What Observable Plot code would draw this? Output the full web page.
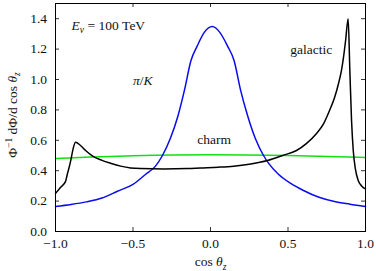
<!DOCTYPE html>
<html><head><meta charset="utf-8">
<script src="https://cdn.jsdelivr.net/npm/d3@7"></script>
<script src="https://cdn.jsdelivr.net/npm/@observablehq/plot@0.6"></script>
<style>body{margin:0;background:#fff} svg{display:block}</style>
</head><body><div id="chart"></div>
<script>
// ---- data ----
const xTicks = [-1.0, -0.5, 0.0, 0.5, 1.0];
const yTicks = [0.0, 0.2, 0.4, 0.6, 0.8, 1.0, 1.2, 1.4];

const cosPiK = [-1.0,-0.9,-0.8,-0.7,-0.6,-0.5,-0.42,-0.355,-0.31,-0.26,-0.21,-0.168,-0.126,-0.086,-0.04,0.012,0.06,0.11,0.152,0.194,0.24,0.29,0.342,0.374,0.44,0.52,0.6,0.7,0.8,0.9,1.0];
const fluxPiK = [0.165,0.178,0.195,0.22,0.265,0.31,0.375,0.43,0.50,0.61,0.76,0.93,1.125,1.22,1.31,1.348,1.31,1.22,1.125,0.93,0.76,0.61,0.50,0.45,0.375,0.315,0.27,0.225,0.197,0.18,0.165];

const cosGal = [-1.0,-0.968,-0.935,-0.923,-0.91,-0.899,-0.885,-0.871,-0.839,-0.806,-0.755,-0.7,-0.645,-0.58,-0.516,-0.45,-0.3,-0.15,-0.065,0.05,0.15,0.25,0.368,0.465,0.555,0.62,0.684,0.73,0.768,0.8,0.826,0.845,0.858,0.872,0.888,0.899,0.910,0.921,0.935,0.953,0.975,1.0];
const fluxGal = [0.25,0.29,0.33,0.38,0.43,0.48,0.55,0.587,0.566,0.533,0.493,0.468,0.449,0.43,0.418,0.414,0.412,0.414,0.418,0.423,0.43,0.443,0.467,0.50,0.533,0.58,0.645,0.71,0.796,0.88,0.974,1.06,1.145,1.26,1.40,1.06,0.73,0.533,0.41,0.336,0.30,0.28];

const cosCharm = [-1.0,-0.5,0.0,0.5,1.0];
const fluxCharm = [0.48,0.498,0.505,0.50,0.487];

const labelEnergy = "Eν = 100 TeV";
const labelPiK = "π/K";
const labelCharm = "charm";
const labelGal = "galactic";
const labelX = "cos θz";
const labelY = "Φ−1 dΦ/d cos θz";

// ---- build ----
const W = 376, H = 271, mL = 55, mR = 11, mT = 3, mB = 40;
const innerW = W - mL - mR, innerH = H - mT - mB, tickLen = 4;
const font = "Liberation Serif, Liberation Sans, serif";
const toRows = (xs, ys) => xs.map((c, i) => ({c, f: ys[i]}));
const fmt = d3.format(".1f");
const T = {fontFamily: font, fontSize: 13.5};

const plot = Plot.plot({
  width: W, height: H,
  marginLeft: mL, marginRight: mR, marginTop: mT, marginBottom: mB,
  style: {fontFamily: font, fontSize: "13.5px", background: "white", color: "#111", overflow: "visible"},
  x: {domain: [-1, 1]},
  y: {domain: [0, 1.5]},
  marks: [
    Plot.axisX(xTicks, {tickSize: 0, tickPadding: 7, tickFormat: fmt, label: null, ...T}),
    Plot.axisY(yTicks, {tickSize: 0, tickPadding: 8.5, tickFormat: fmt, label: null, ...T}),
    Plot.tickX(xTicks, {x: d => d, insetTop: innerH - tickLen, stroke: "#333"}),
    Plot.tickX(xTicks, {x: d => d, insetBottom: innerH - tickLen, stroke: "#333"}),
    Plot.tickY(yTicks, {y: d => d, insetRight: innerW - tickLen, stroke: "#333"}),
    Plot.tickY(yTicks, {y: d => d, insetLeft: innerW - tickLen, stroke: "#333"}),
    Plot.line(toRows(cosCharm, fluxCharm), {x: "c", y: "f", stroke: "#11e011", strokeWidth: 1.5, curve: "monotone-x"}),
    Plot.line(toRows(cosPiK, fluxPiK), {x: "c", y: "f", stroke: "#0a0aee", strokeWidth: 1.5, curve: "monotone-x"}),
    Plot.line(toRows(cosGal, fluxGal), {x: "c", y: "f", stroke: "black", strokeWidth: 1.5, curve: "monotone-x"}),
    Plot.frame({stroke: "black", strokeWidth: 1}),
    Plot.text([labelEnergy], {x: -0.896, y: 1.355, text: d => d, textAnchor: "start", ...T}),
    Plot.text([labelPiK], {x: -0.5, y: 0.99, text: d => d, textAnchor: "start", ...T}),
    Plot.text([labelCharm], {x: 0.023, y: 0.605, text: d => d, textAnchor: "middle", ...T}),
    Plot.text([labelGal], {x: 0.65, y: 1.197, text: d => d, textAnchor: "middle", ...T}),
    Plot.text([labelX], {frameAnchor: "bottom", dy: 34.5, lineAnchor: "bottom", text: d => d, ...T}),
    Plot.text([labelY], {frameAnchor: "left", dx: -39, dy: -2.5, rotate: -90, lineAnchor: "bottom", textAnchor: "middle", text: d => d, ...T})
  ]
});

// rich text: italics, sub/superscripts as tspans
function rich(plain, parts) {
  d3.select(plot).selectAll("text").filter(function() { return this.textContent === plain; }).each(function() {
    const t = d3.select(this);
    t.text(null);
    let shift = 0;
    for (const [s, kind] of parts) {
      const ts = t.append("tspan").text(s);
      let target = 0;
      if (kind.includes("i")) ts.attr("font-style", "italic");
      if (kind.includes("sub")) { target = 3.5; ts.attr("font-size", "9.5px"); }
      if (kind.includes("sup")) { target = -5; ts.attr("font-size", "9.5px"); }
      if (target !== shift) ts.attr("dy", target - shift);
      shift = target;
    }
  });
}
rich(labelEnergy, [["E", "i"], ["ν", "i sub"], [" = 100 TeV", ""]]);
rich(labelPiK, [["π", "i"], ["/", ""], ["K", "i"]]);
rich(labelX, [["cos ", ""], ["θ", "i"], ["z", "i sub"]]);
rich(labelY, [["Φ", ""], ["−1", "sup"], [" dΦ/d cos ", ""], ["θ", "i"], ["z", "i sub"]]);
d3.select(plot).selectAll("text, tspan").attr("font-family", font);

document.getElementById("chart").appendChild(plot);
</script>
</body></html>
